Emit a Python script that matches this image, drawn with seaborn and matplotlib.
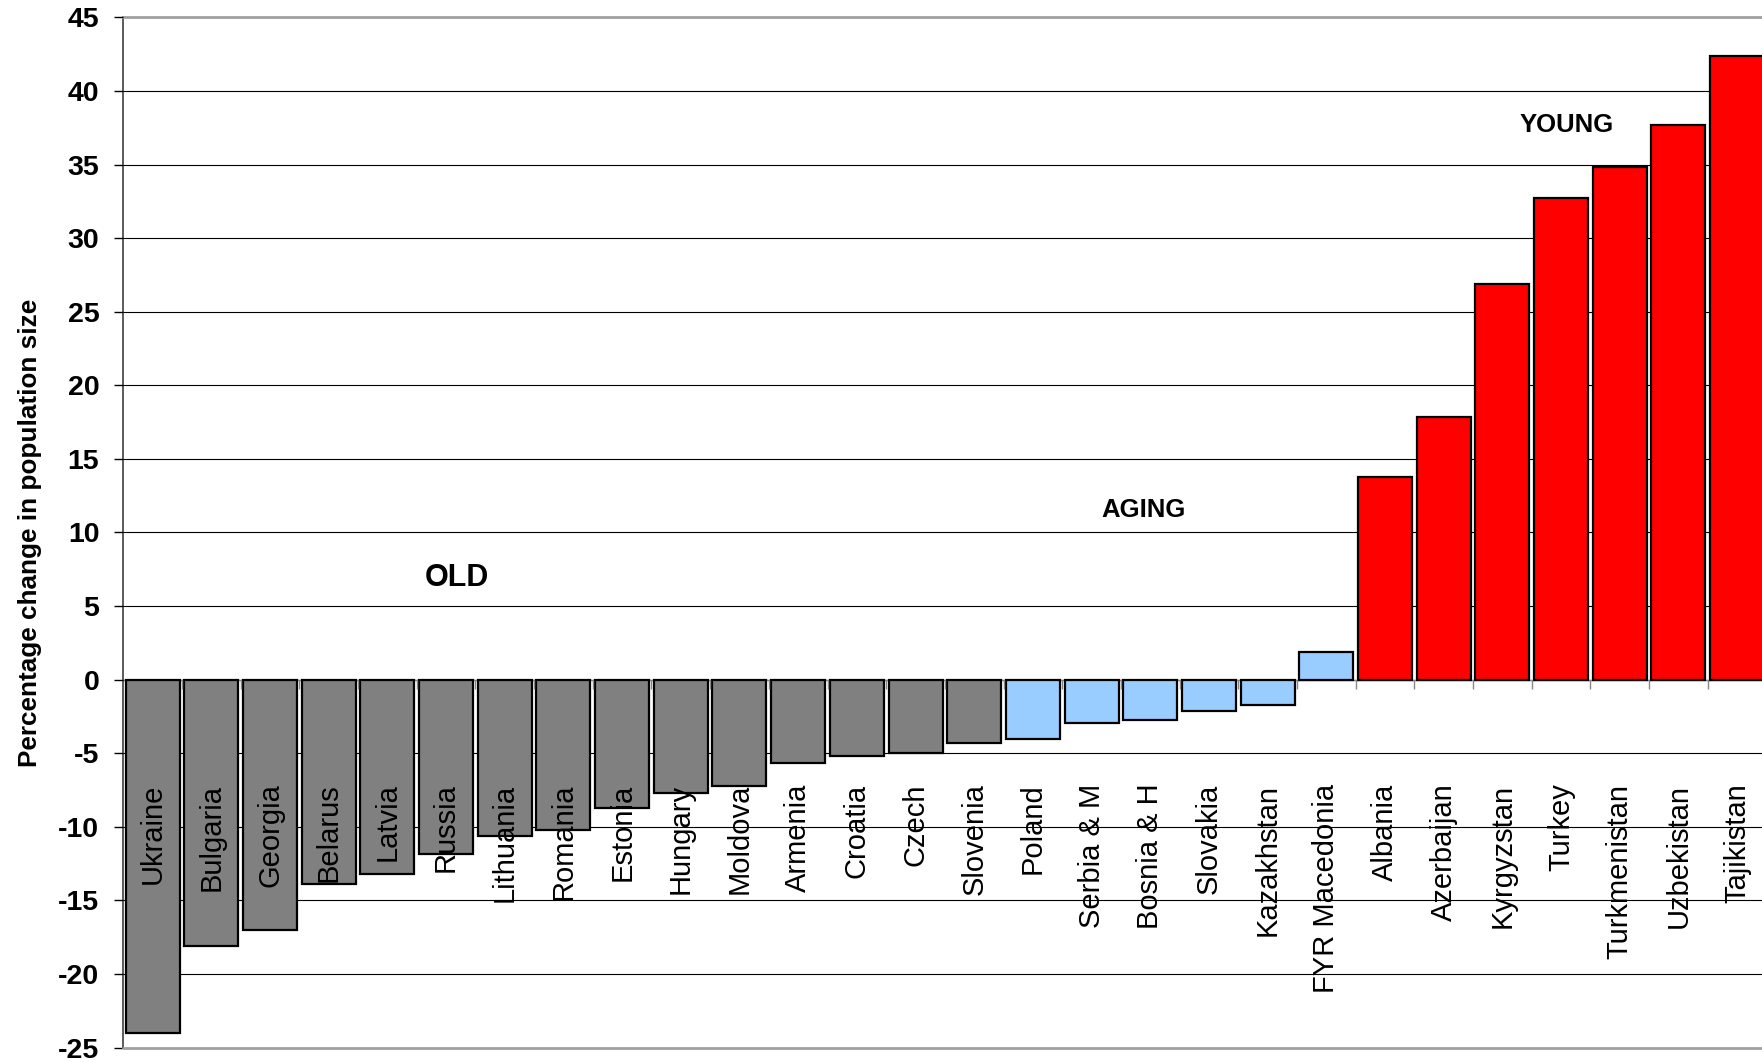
import matplotlib
matplotlib.use("Agg")
import matplotlib.pyplot as plt
import seaborn as sns
import pandas as pd

# Countries ordered by projected population change
countries = ["Ukraine", "Bulgaria", "Georgia", "Belarus", "Latvia", "Russia",
             "Lithuania", "Romania", "Estonia", "Hungary", "Moldova", "Armenia",
             "Croatia", "Czech", "Slovenia", "Poland", "Serbia & M", "Bosnia & H",
             "Slovakia", "Kazakhstan", "FYR Macedonia", "Albania", "Azerbaijan",
             "Kyrgyzstan", "Turkey", "Turkmenistan", "Uzbekistan", "Tajikistan"]
change = [-24.0, -18.1, -17.0, -13.9, -13.2, -11.85, -10.6, -10.2, -8.7, -7.7,
          -7.2, -5.65, -5.2, -5.0, -4.3, -4.0, -2.95, -2.75, -2.1, -1.75, 1.9,
          13.8, 17.85, 26.9, 32.7, 34.8, 37.7, 42.4]
groups = ["OLD"] * 15 + ["AGING"] * 6 + ["YOUNG"] * 7

group_names = ["OLD", "AGING", "YOUNG"]
group_colors = {"OLD": "#808080", "AGING": "#99CCFF", "YOUNG": "#FF0000"}
y_ticks = list(range(-25, 50, 5))

df = pd.DataFrame({"country": countries, "change": change, "group": groups})

sns.set_style("white")
plt.rcParams["font.family"] = ["Liberation Sans", "DejaVu Sans"]
plt.rcParams["text.color"] = "black"
plt.rcParams["axes.labelcolor"] = "black"
plt.rcParams["xtick.color"] = "black"
plt.rcParams["ytick.color"] = "black"

fig = plt.figure(figsize=(17.62, 10.62), dpi=100)
ax = fig.add_axes([0.07, 0.0135, 0.9325, 0.9702])

sns.barplot(data=df, x="country", y="change", hue="group", order=countries,
            hue_order=group_names, palette=group_colors, dodge=False,
            width=0.92, edgecolor="black", linewidth=1.6, saturation=1,
            legend=False, ax=ax, zorder=1)

ax.set_xlim(-0.5, len(countries) - 0.5)
ax.set_ylim(-25, 45)

# Axis artists (tick labels) drawn above the bars; grid lines kept behind
ax.set_axisbelow(False)
for v in y_ticks[1:-1]:
    ax.axhline(v, color="black", linewidth=0.8, zorder=0.4)
ax.grid(False)

# Y axis: bold tick labels
ax.set_yticks(y_ticks)
ax.set_yticklabels([str(v) for v in y_ticks], fontsize=20.5, fontweight="bold",
                   color="black")
ax.tick_params(axis="y", direction="out", length=6.5, width=1, pad=10.8,
               color="black", labelcolor="black", left=True)

ax.set_ylabel("Percentage change in population size", fontsize=18.8,
              fontweight="bold", va="center", color="black")
ax.yaxis.set_label_coords(-0.057, 0.5)

# X axis sits on zero, with category separators and rotated names below
ax.set_xlabel("")
ax.spines["bottom"].set_position(("data", 0))
ax.spines["bottom"].set_color("#888888")
ax.spines["bottom"].set_linewidth(1)
ax.spines["bottom"].set_zorder(0.6)
ax.set_xticks(range(len(countries)))
ax.set_xticklabels(countries, rotation=90, fontsize=21, color="black")
ax.set_xticks([i + 0.5 for i in range(len(countries) - 1)], minor=True)
ax.tick_params(axis="x", which="major", length=0, pad=74.8, bottom=True,
               labelcolor="black")
ax.tick_params(axis="x", which="minor", direction="out", length=6.5, width=1,
               color="#888888", bottom=True)

# Frame
ax.spines["right"].set_visible(False)
ax.spines["top"].set_color("#a0a0a0")
ax.spines["top"].set_linewidth(2)
ax.spines["left"].set_color("#404040")
ax.spines["left"].set_linewidth(1.2)
ax.axhline(-25, color="#a0a0a0", linewidth=2, zorder=3, clip_on=False)

# Group annotations
ax.text(5.19, 6.9, "OLD", fontsize=22, fontweight="bold", ha="center",
        va="center", color="black")
ax.text(16.88, 11.5, "AGING", fontsize=18.5, fontweight="bold", ha="center",
        va="center", color="black")
ax.text(24.09, 37.7, "YOUNG", fontsize=18.5, fontweight="bold", ha="center",
        va="center", color="black")

fig.savefig("out.png", dpi=100)
